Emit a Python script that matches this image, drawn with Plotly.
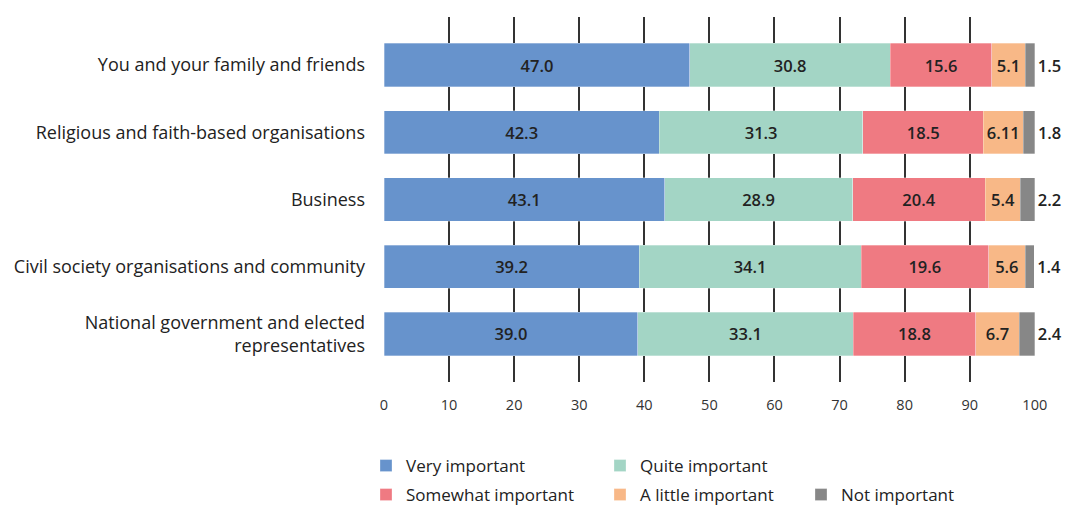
import plotly.graph_objects as go

categories = [
    "You and your family and friends",
    "Religious and faith-based organisations",
    "Business",
    "Civil society organisations and community",
    "National government and elected<br>representatives",
]
series_names = ["Very important", "Quite important", "Somewhat important", "A little important", "Not important"]
very_important = [47.0, 42.3, 43.1, 39.2, 39.0]
quite_important = [30.8, 31.3, 28.9, 34.1, 33.1]
somewhat_important = [15.6, 18.5, 20.4, 19.6, 18.8]
a_little_important = [5.1, 6.11, 5.4, 5.6, 6.7]
not_important = [1.5, 1.8, 2.2, 1.4, 2.4]
value_labels = [
    ["47.0", "42.3", "43.1", "39.2", "39.0"],
    ["30.8", "31.3", "28.9", "34.1", "33.1"],
    ["15.6", "18.5", "20.4", "19.6", "18.8"],
    ["5.1", "6.11", "5.4", "5.6", "6.7"],
    ["1.5", "1.8", "2.2", "1.4", "2.4"],
]
x_ticks = [0, 10, 20, 30, 40, 50, 60, 70, 80, 90, 100]

colors = ["#6793CC", "#A3D5C5", "#EF7A82", "#F8B887", "#878787"]
series_values = [very_important, quite_important, somewhat_important, a_little_important, not_important]
legend_ids = ["legend", "legend", "legend2", "legend2", "legend3"]

FONT = "Open Sans"
fig = go.Figure()
for i, (name, vals) in enumerate(zip(series_names, series_values)):
    last = i == len(series_names) - 1
    fig.add_trace(go.Bar(
        y=categories, x=vals, name=name, orientation="h",
        marker=dict(color=colors[i], line=dict(color="rgba(255,255,255,0.6)", width=0.5)),
        width=0.64,
        text=value_labels[i],
        textposition="outside" if last else "inside",
        insidetextanchor="middle",
        constraintext="none",
        cliponaxis=False,
        textfont=dict(family=FONT, size=16.5, color="#222222", weight=600),
        legend=legend_ids[i],
        hoverinfo="x+y+name",
    ))

legend_common = dict(
    orientation="h", xanchor="left", yanchor="middle",
    xref="container", yref="container",
    font=dict(family=FONT, size=17, color="#222222"),
    entrywidth=189, entrywidthmode="pixels", traceorder="normal",
    itemclick=False, itemdoubleclick=False, bgcolor="rgba(0,0,0,0)",
)
fig.update_layout(
    barmode="stack",
    width=1067, height=509,
    margin=dict(l=384, r=32, t=17, b=127),
    plot_bgcolor="white", paper_bgcolor="white",
    font=dict(family=FONT, color="#222222"),
    legend=dict(legend_common, x=366 / 1067, y=1 - 466 / 509),
    legend2=dict(legend_common, x=366 / 1067, y=1 - 495 / 509),
    legend3=dict(legend_common, x=801 / 1067, y=1 - 495 / 509),
)
fig.update_xaxes(
    range=[0, 100.03], tickvals=x_ticks, ticktext=[str(t) for t in x_ticks],
    showgrid=True, gridcolor="#333333", gridwidth=1.5, zeroline=False,
    showline=False, ticks="", ticklabelstandoff=12,
    tickfont=dict(family=FONT, size=14.5, color="#333333"),
)
fig.update_yaxes(
    categoryorder="array", categoryarray=categories,
    range=[4.714, -0.714], showgrid=False, zeroline=False, showline=False,
    ticks="", ticklabelstandoff=18,
    tickfont=dict(family=FONT, size=18, color="#222222"),
)
fig.write_html("out.html", post_script="document.body.style.margin='0';",
               config={"displayModeBar": False})
